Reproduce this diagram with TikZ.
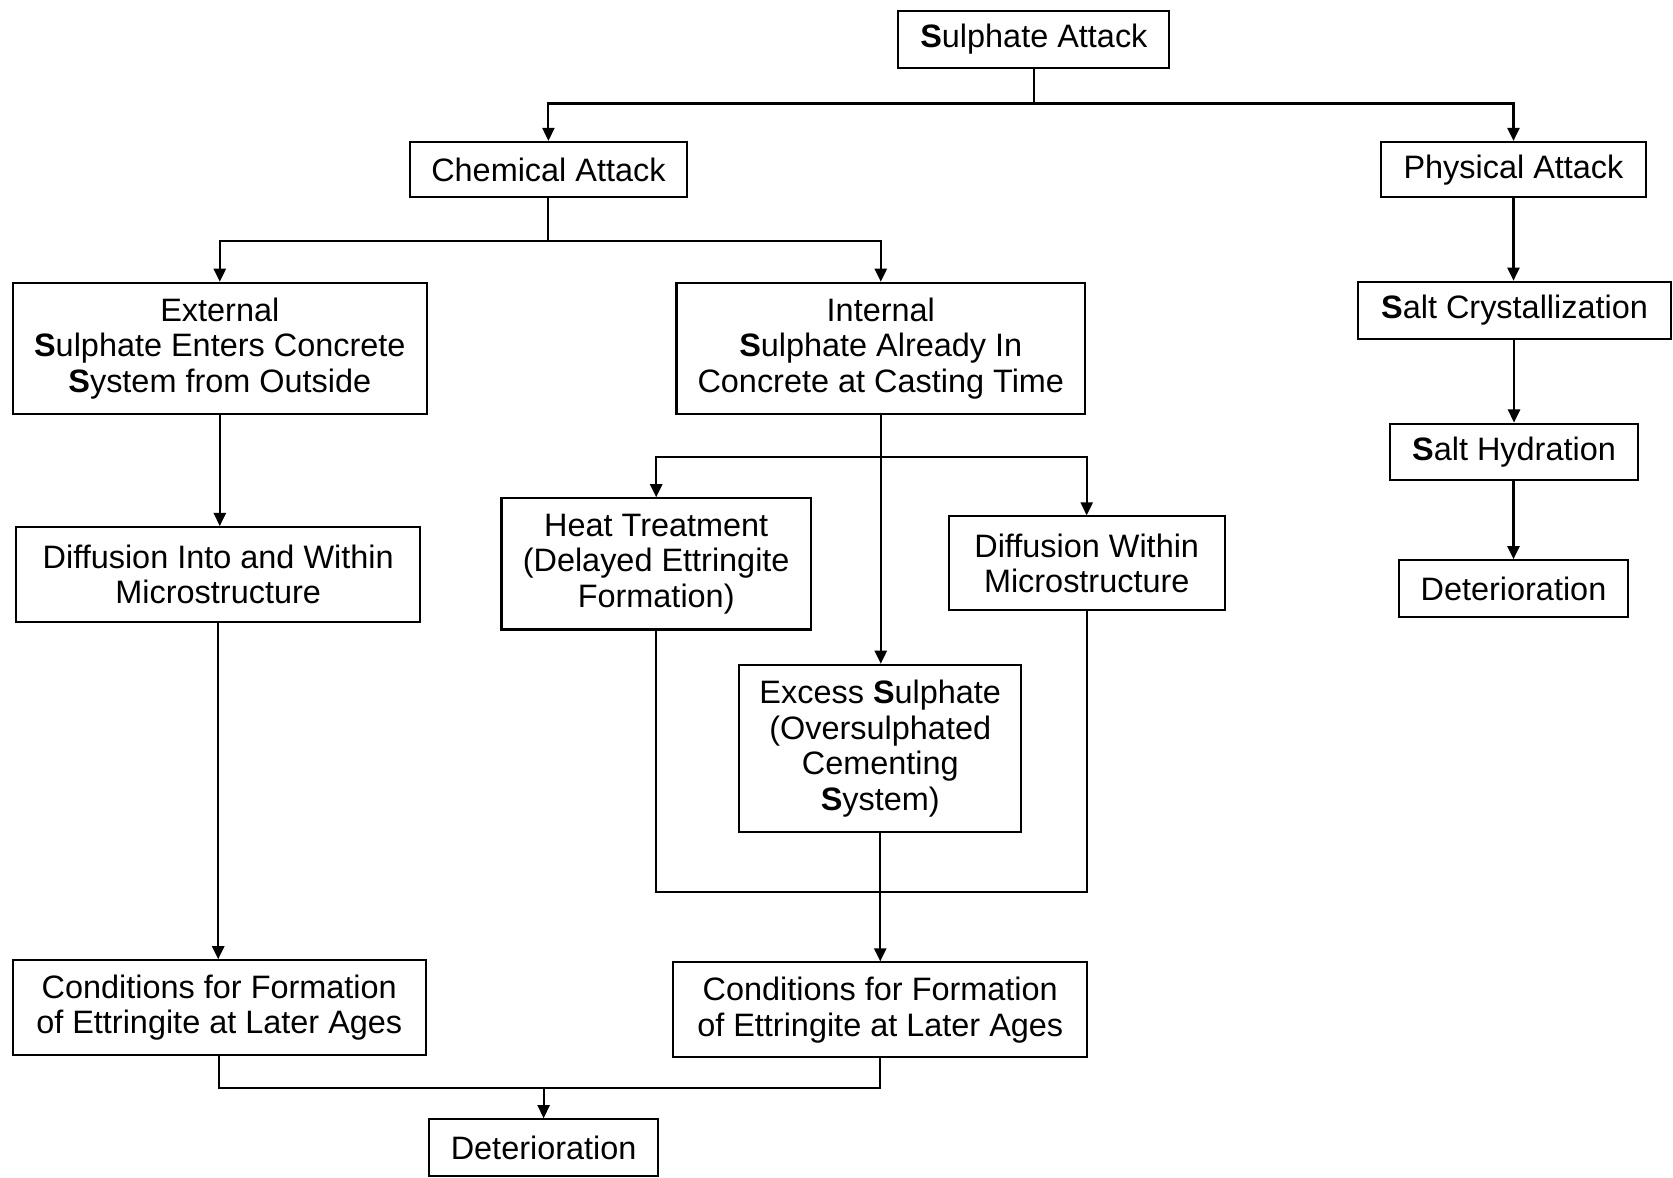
\documentclass[tikz,border=0pt]{standalone}
\usepackage{fontspec}
\setmainfont{Liberation Sans}
\usetikzlibrary{arrows.meta}
\begin{document}
\begin{tikzpicture}[x=0.02cm,y=-0.02cm,
  box/.style={draw,line width=1.1pt,inner sep=0pt,align=center,font=\fontsize{17.3}{19}\selectfont},
  link/.style={line width=1.1pt},
  arr/.style={line width=1.1pt,-{Triangle[width=6.5pt,length=7pt]}}]
\useasboundingbox (0,0) rectangle (1568,1104);
\node[box,minimum width=5.08cm,minimum height=1.08cm] (sa) at (969,37) {\textbf{S}ulphate Attack};
\node[box,minimum width=5.2cm,minimum height=1.04cm] (ca) at (514,159) {Chemical Attack};
\node[box,minimum width=4.98cm,minimum height=1.04cm] (pa) at (1418.5,159) {Physical Attack};
\node[box,minimum width=7.76cm,minimum height=2.46cm] (ext) at (206,326.5) {External\\\textbf{S}ulphate Enters Concrete\\\textbf{S}ystem from Outside};
\node[box,minimum width=7.66cm,minimum height=2.46cm] (int) at (825.5,326.5) {Internal\\\textbf{S}ulphate Already In\\Concrete at Casting Time};
\node[box,minimum width=5.86cm,minimum height=1.08cm] (sc) at (1419.5,291) {\textbf{S}alt Crystallization};
\node[box,minimum width=4.64cm,minimum height=1.06cm] (sh) at (1419,423.5) {\textbf{S}alt Hydration};
\node[box,minimum width=4.3cm,minimum height=1.06cm] (dr) at (1418.5,551.5) {Deterioration};
\node[box,minimum width=7.58cm,minimum height=1.78cm] (dif1) at (204.5,538.5) {Diffusion Into and Within\\Microstructure};
\node[box,minimum width=5.8cm,minimum height=2.46cm] (ht) at (615,528.5) {Heat Treatment\\(Delayed Ettringite\\Formation)};
\node[box,minimum width=5.18cm,minimum height=1.76cm] (dif2) at (1018.5,528) {Diffusion Within\\Microstructure};
\node[box,minimum width=5.28cm,minimum height=3.14cm] (ex) at (825,701.5) {Excess \textbf{S}ulphate\\(Oversulphated\\Cementing\\\textbf{S}ystem)};
\node[box,minimum width=7.74cm,minimum height=1.78cm] (cl) at (205.5,944.5) {Conditions for Formation\\of Ettringite at Later Ages};
\node[box,minimum width=7.76cm,minimum height=1.78cm] (cr) at (825,946.5) {Conditions for Formation\\of Ettringite at Later Ages};
\node[box,minimum width=4.3cm,minimum height=1.06cm] (db) at (509.5,1075.5) {Deterioration};
\coordinate (j1) at (969,97);
\coordinate (j2) at (514,226);
\coordinate (j3) at (825.5,428);
\coordinate (j4) at (825,836);
\coordinate (j5) at (509.5,1020);
\draw[link] (sa.south) -- (j1);
\draw[arr] (j1) -| (ca.north);
\draw[arr] (j1) -| (pa.north);
\draw[link] (ca.south) -- (j2);
\draw[arr] (j2) -| (ext.north);
\draw[arr] (j2) -| (int.north);
\draw[arr] (pa.south) -- (sc.north -| pa.south);
\draw[arr] (sc.south -| sh.north) -- (sh.north);
\draw[arr] (sh.south -| dr.north) -- (dr.north);
\draw[arr] (ext.south) -- (dif1.north -| ext.south);
\draw[arr] (dif1.south) -- (cl.north -| dif1.south);
\draw[arr] (int.south) -- (ex.north -| int.south);
\draw[arr] (j3) -| (ht.north);
\draw[arr] (j3) -| (dif2.north);
\draw[link] (ht.south) |- (j4) -| (dif2.south);
\draw[arr] (ex.south) -- (cr.north);
\draw[link] (cl.south) |- (j5) -| (cr.south);
\draw[arr] (j5) -- (db.north);
\end{tikzpicture}
\end{document}
